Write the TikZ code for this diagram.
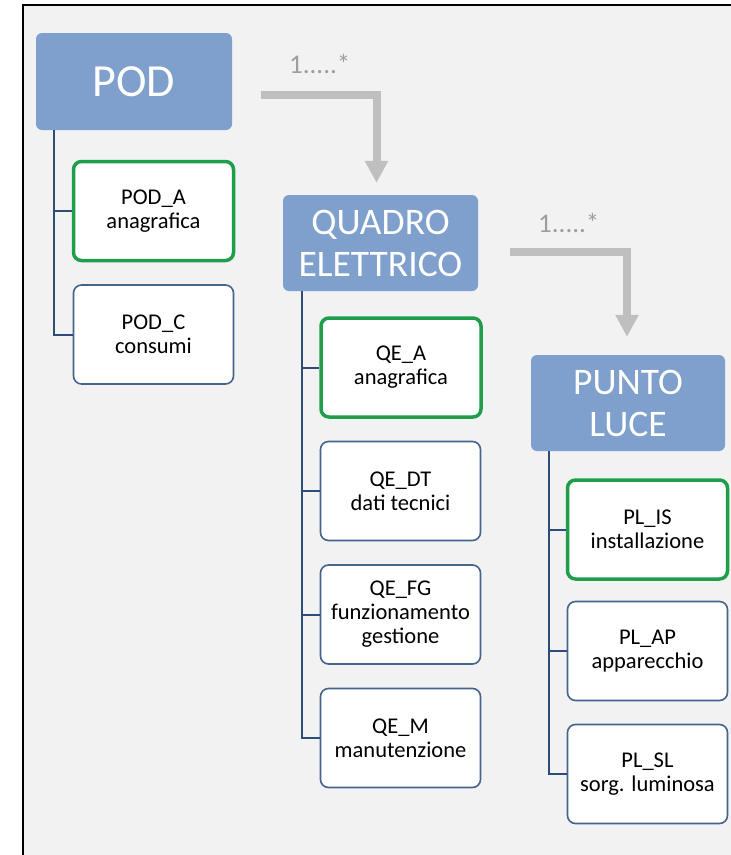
\documentclass[tikz,border=0pt]{standalone}
\usepackage{fontspec}
\setmainfont{Carlito}
\usetikzlibrary{arrows.meta}

\definecolor{bggray}{HTML}{F2F2F2}
\definecolor{headblue}{HTML}{7F9FCC}
\definecolor{boxblue}{HTML}{44638F}
\definecolor{treeblue}{HTML}{2F4B7C}
\definecolor{keygreen}{HTML}{1E9E4A}
\definecolor{linkgray}{HTML}{BFBFBF}

\def\boxw{160pt}
\def\boxh{99pt}

\tikzset{
	head/.style={fill=headblue, text=white, rounded corners=6pt, align=center,
		font=\fontsize{37.5}{42}\selectfont, inner sep=0pt},
	item/.style={draw=boxblue, fill=white, line width=1.6pt, rounded corners=8pt,
		minimum width=\boxw, minimum height=\boxh, align=center, inner sep=0pt,
		font=\fontsize{22.5}{24}\selectfont},
	keyitem/.style={item, draw=keygreen, line width=3.5pt},
	tree/.style={treeblue, line width=2pt},
	link/.style={linkgray, line width=8pt, -{Triangle[width=22pt,length=22pt]}},
	mult/.style={text=black!38, font=\fontsize{27}{30}\selectfont, inner sep=0pt, anchor=base west},
}

\begin{document}
\begin{tikzpicture}[x=1pt, y=-1pt]

	%%% Page
	\useasboundingbox (0,0) rectangle (731,855);
	\fill[bggray] (23,5) rectangle (731,855);
	\draw[black, line width=2pt] (23,855) -- (23,5) -- (731,5);

	%%% POD
	\node[head, minimum width=196pt, minimum height=97pt,
		font=\fontsize{46}{50}\selectfont] (pod) at (134,81.5) {POD};
	\node[keyitem] (pod_a) at (153.5,211) {POD\_A\\anagrafica};
	\node[item] (pod_c) at (153.5,334.5) {POD\_C\\consumi};

	%%% Quadro elettrico
	\node[head, minimum width=195pt, minimum height=96pt] (qe) at (380.5,243) {QUADRO\\ELETTRICO};
	\node[keyitem] (qe_a) at (401,367.5) {QE\_A\\anagrafica};
	\node[item] (qe_dt) at (400.5,491) {QE\_DT\\dati tecnici};
	\node[item] (qe_fg) at (400.5,614.5) {QE\_FG\\funzionamento\\gestione};
	\node[item] (qe_m) at (400.5,738) {QE\_M\\manutenzione};

	%%% Punto luce
	\node[head, minimum width=194pt, minimum height=96pt] (pl) at (628,403) {PUNTO\\LUCE};
	\node[keyitem] (pl_is) at (647.5,529.5) {PL\_IS\\installazione};
	\node[item] (pl_ap) at (647.5,651) {PL\_AP\\apparecchio};
	\node[item] (pl_sl) at (647.5,774) {PL\_SL\\sorg. luminosa};

	%%% Trees
	\draw[tree] ([xshift=18pt]pod.south west) |- (pod_a.west);
	\draw[tree] ([xshift=18pt]pod.south west) |- (pod_c.west);
	\foreach \n in {qe_a,qe_dt,qe_fg,qe_m}
		\draw[tree] ([xshift=19pt]qe.south west) |- (\n.west);
	\foreach \n in {pl_is,pl_ap,pl_sl}
		\draw[tree] ([xshift=18pt]pl.south west) |- (\n.west);

	%%% Multiplicity links
	\draw[link] ([xshift=29pt,yshift=-13.5pt]pod.east) -| ([xshift=-4pt,yshift=12pt]qe.north);
	\node[mult] (mult_qe) at (289,73) {1.....*};

	\draw[link] ([xshift=32pt,yshift=-9pt]qe.east) -| ([xshift=-1pt,yshift=18pt]pl.north);
	\node[mult] (mult_pl) at (538,232) {1.....*};

\end{tikzpicture}
\end{document}
